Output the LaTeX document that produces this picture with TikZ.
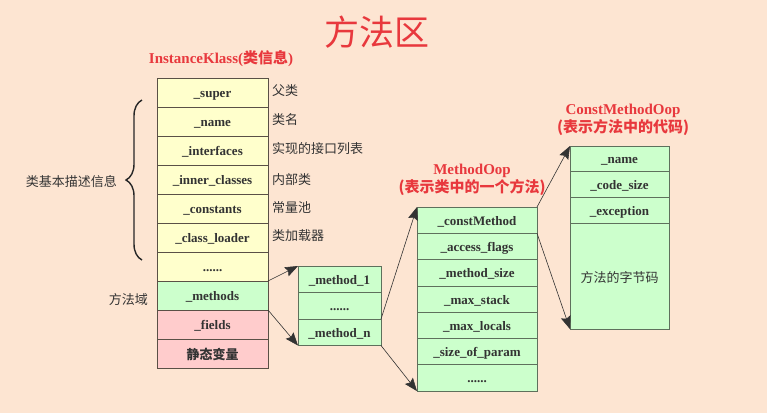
\documentclass[tikz,border=0pt]{standalone}
\usepackage{fontspec}
\setmainfont{Liberation Serif}
\newfontfamily\cjk{Noto Sans CJK SC}
\usepackage{tikz}
\usetikzlibrary{arrows.meta, positioning, decorations.pathreplacing}
\definecolor{bgpeach}{HTML}{FDE5D2}
\definecolor{titlered}{HTML}{E8383D}
\definecolor{yellowrow}{HTML}{FFFFCC}
\definecolor{greenrow}{HTML}{CCFFCC}
\definecolor{pinkrow}{HTML}{FFCCCC}
\definecolor{rowline}{HTML}{5A5046}
\definecolor{greenline}{HTML}{5E705C}
\definecolor{arrowgray}{HTML}{333333}

\begin{document}
\begin{tikzpicture}[x=1pt, y=-1pt, >={Stealth[length=13pt, width=10pt, inset=2pt]},
    field/.style={draw=rowline, line width=0.8pt, inner sep=0pt, outer sep=0pt,
      text height=11pt, text depth=1pt,
      text=black!80, font=\fontsize{13}{15}\selectfont\bfseries},
    cjkfield/.style={text height=13pt, text depth=1pt, font=\cjk\fontsize{13}{15}\selectfont},
    klassrow/.style={field, minimum width=111pt, minimum height=29pt},
    listrow/.style={field, draw=greenline, minimum width=83pt, minimum height=26.5pt, fill=greenrow},
    ooprow/.style={field, draw=greenline, minimum width=120pt, minimum height=26.3pt, fill=greenrow},
    constrow/.style={field, draw=greenline, minimum width=99pt, minimum height=25.7pt, fill=greenrow},
    sidenote/.style={inner sep=0pt, font=\cjk\fontsize{13}{15}\selectfont, text=black!80},
    boxtitle/.style={align=center, inner sep=0pt, text=titlered,
      font=\fontsize{15}{18}\selectfont\bfseries},
    link/.style={->, draw=arrowgray, line width=0.6pt}]
    \useasboundingbox[fill=bgpeach] (0,0) rectangle (767,413);

    % Title
    \node[text=titlered, font=\cjk\fontsize{35}{38}\selectfont] (title) at (377, 32) {方法区};

    % InstanceKlass
    \node[boxtitle] (klasstitle) at (221, 59) {InstanceKlass({\cjk 类信息})};
    \node[klassrow, fill=yellowrow] (super) at (212.5, 92.5) {\_super};
    \node[klassrow, fill=yellowrow, below=0pt of super] (name) {\_name};
    \node[klassrow, fill=yellowrow, below=0pt of name] (interfaces) {\_interfaces};
    \node[klassrow, fill=yellowrow, below=0pt of interfaces] (inner) {\_inner\_classes};
    \node[klassrow, fill=yellowrow, below=0pt of inner] (constants) {\_constants};
    \node[klassrow, fill=yellowrow, below=0pt of constants] (loader) {\_class\_loader};
    \node[klassrow, fill=yellowrow, below=0pt of loader] (kdots) {......};
    \node[klassrow, fill=greenrow, below=0pt of kdots] (methods) {\_methods};
    \node[klassrow, fill=pinkrow, below=0pt of methods] (fields) {\_fields};
    \node[klassrow, fill=pinkrow, below=0pt of fields, cjkfield, font=\cjk\fontsize{13}{15}\selectfont\bfseries] (statics) {静态变量};

    % Notes on the right of the klass rows
    \node[sidenote, anchor=west] at ([xshift=4pt, yshift=2pt]super.east) {父类};
    \node[sidenote, anchor=west] at ([xshift=4pt, yshift=2pt]name.east) {类名};
    \node[sidenote, anchor=west] at ([xshift=4pt, yshift=2pt]interfaces.east) {实现的接口列表};
    \node[sidenote, anchor=west] at ([xshift=4pt, yshift=0pt]inner.east) {内部类};
    \node[sidenote, anchor=west] at ([xshift=4pt, yshift=1pt]constants.east) {常量池};
    \node[sidenote, anchor=west] at ([xshift=4pt, yshift=2pt]loader.east) {类加载器};

    % Brace over the basic class info
    \draw[decorate, decoration={brace, amplitude=16pt}, line width=1.4pt, draw=black!85] (142, 260) -- (142, 100);
    \node[sidenote, anchor=east] (basicinfo) at (117, 182) {类基本描述信息};
    \node[sidenote, left=9pt of methods, yshift=-4pt] (methodarea) {方法域};

    % Method list
    \node[listrow] (m1) at (339.5, 279.25) {\_method\_1};
    \node[listrow, below=0pt of m1] (mdots) {......};
    \node[listrow, below=0pt of mdots] (mn) {\_method\_n};

    % MethodOop
    \node[boxtitle] (ooptitle) at (472, 180) {MethodOop\\{\cjk (表示类中的一个方法)}};
    \node[ooprow] (constm) at (477, 220.15) {\_constMethod};
    \node[ooprow, below=0pt of constm] (access) {\_access\_flags};
    \node[ooprow, below=0pt of access] (msize) {\_method\_size};
    \node[ooprow, below=0pt of msize] (stack) {\_max\_stack};
    \node[ooprow, below=0pt of stack] (locals) {\_max\_locals};
    \node[ooprow, below=0pt of locals] (param) {\_size\_of\_param};
    \node[ooprow, below=0pt of param] (odots) {......};

    % ConstMethodOop
    \node[boxtitle] (consttitle) at (623, 120) {ConstMethodOop\\{\cjk (表示方法中的代码)}};
    \node[constrow] (cname) at (619.5, 158.85) {\_name};
    \node[constrow, below=0pt of cname] (csize) {\_code\_size};
    \node[constrow, below=0pt of csize] (cexc) {\_exception};
    \node[constrow, below=0pt of cexc, minimum height=106pt, cjkfield] (bytecode) {方法的字节码};

    % Links
    \draw[link] (kdots.south east) -- (m1.north west);
    \draw[link] (methods.south east) -- (mn.south west);
    \draw[link] (mn.north east) -- (constm.north west);
    \draw[link] (mn.south east) -- (odots.south west);
    \draw[link] (constm.north east) -- (cname.north west);
    \draw[link] (constm.south east) -- (bytecode.south west);
\end{tikzpicture}
\end{document}
